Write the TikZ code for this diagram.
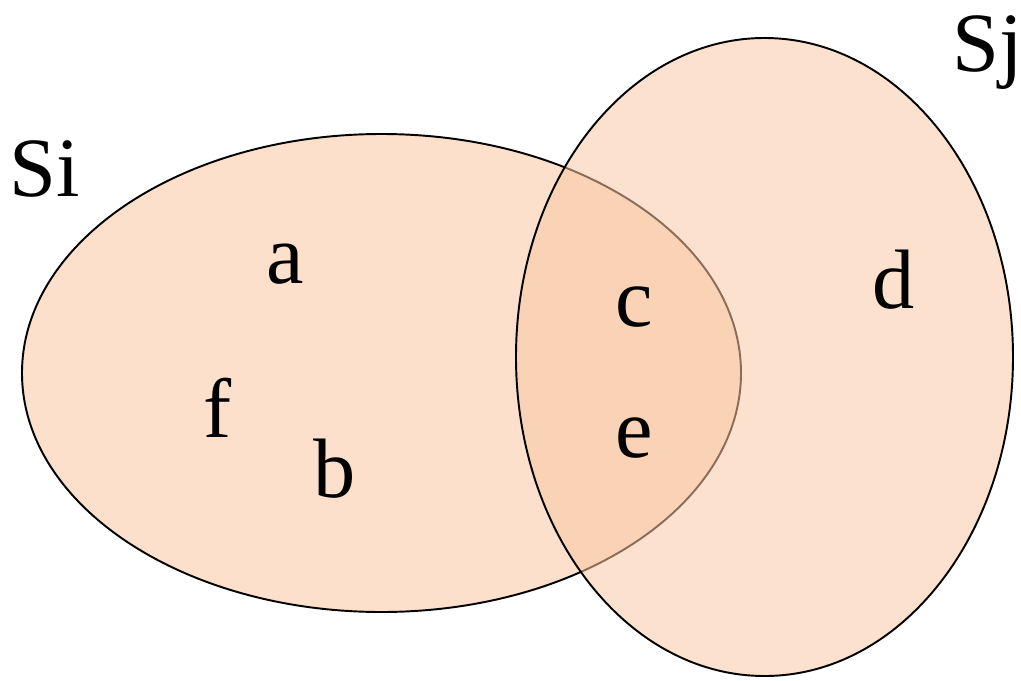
\documentclass[tikz,border=0pt]{standalone}
\usepackage{fontspec}
\setmainfont{Liberation Serif}
\usepackage{tikz}
\usetikzlibrary{positioning}
\usepackage{xcolor}
\definecolor{softpeach}{RGB}{252,224,203}
\definecolor{deeppeach}{RGB}{250,200,165}
\tikzset{
  setline/.style={draw=black,line width=1.1pt},
  seti/.style={setline,fill=softpeach},
  setj/.style={setline,fill=deeppeach,fill opacity=0.55,draw opacity=1},
  setname/.style={font=\fontsize{48}{54}\selectfont,inner sep=0pt,anchor=base},
  elem/.style={font=\fontsize{48}{54}\selectfont,inner sep=0pt,anchor=base}
}
\begin{document}
\begin{tikzpicture}[x=0.02cm,y=-0.02cm]
  \useasboundingbox (0,0) rectangle (1021,680);
  % the two sets
  \path[seti] (381.5,373) ellipse [x radius=359.5,y radius=239];
  \path[setj] (764.5,357) ellipse [x radius=248.5,y radius=319];
  \node[setname] (si) at (45,196) {Si};
  \node[setname] (sj) at (988,71) {Sj};
  % elements
  \node[elem] (a) at (285,283) {a};
  \node[elem] (f) at (218,437) {f};
  \node[elem] (b) at (335,497) {b};
  \node[elem] (c) at (634,326) {c};
  \node[elem] (e) at (634,457) {e};
  \node[elem] (d) at (894,308) {d};
\end{tikzpicture}
\end{document}
